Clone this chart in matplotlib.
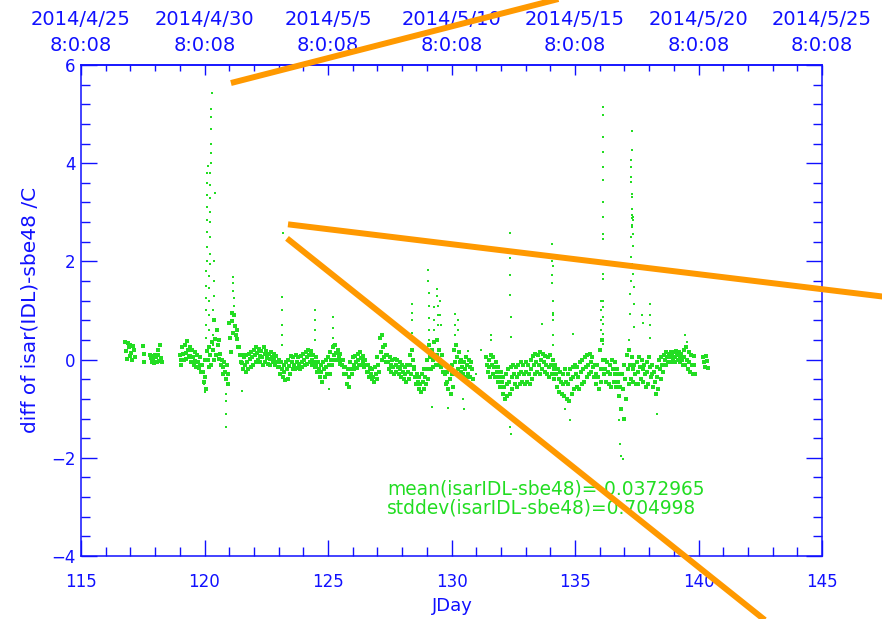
import numpy as np
import matplotlib
matplotlib.use('Agg')
import matplotlib.pyplot as plt
from matplotlib.ticker import MultipleLocator

n = np.nan

# band of the diff record, sampled every 0.1 day from JDay 116.0 (upper / middle / lower dots)
hi = [n, n, n, n, n, n, n, n, 0.35, 0.33,
      0.3, 0.28, n, n, n, 0.28, n, n, 0.1, 0.08,
      0.1, 0.2, 0.3, n, n, n, n, n, n, n,
      0.1, 0.25, 0.3, 0.38, 0.25, 0.2, 0.15, 0.1, 0.05, -0.1,
      0.0, 0.18, 0.25, 0.35, 0.8, 0.6, 0.4, 0.0, -0.05, -0.1,
      0.75, 0.95, 0.9, 0.6, 0.25, 0.1, 0.05, 0.1, 0.12, 0.15,
      0.2, 0.25, 0.22, 0.18, 0.25, 0.18, 0.12, 0.15, 0.12, 0.08,
      0.0, -0.05, -0.1, -0.05, 0.0, 0.08, 0.05, 0.1, 0.05, 0.08,
      0.12, 0.15, 0.2, 0.18, 0.1, 0.05, -0.05, -0.1, -0.05, 0.0,
      0.05, 0.15, 0.25, 0.3, 0.2, 0.12, 0.0, -0.15, -0.2, -0.05,
      0.05, 0.08, 0.12, 0.15, 0.08, 0.0, -0.1, -0.18, -0.2, -0.15,
      0.05, 0.45, 0.5, 0.3, 0.1, 0.05, 0.0, 0.02, 0.0, -0.05,
      -0.1, -0.15, -0.1, 0.1, 0.2, -0.15, -0.3, -0.35, -0.3, -0.2,
      0.0, 0.3, 0.2, 0.35, 0.4, 0.2, 0.1, -0.1, -0.25, -0.2,
      -0.1, 0.2, 0.3, 0.15, 0.0, -0.05, 0.05, 0.0, -0.05, n,
      n, n, n, n, 0.05, 0.0, 0.1, 0.05, -0.05, -0.15,
      -0.25, -0.35, -0.3, -0.2, -0.15, -0.1, -0.15, -0.1, -0.05, -0.1,
      -0.05, -0.1, 0.0, 0.08, 0.12, 0.1, 0.15, 0.12, 0.08, 0.05,
      0.1, 0.0, -0.1, -0.2, -0.25, -0.3, -0.2, -0.3, -0.2, -0.15,
      -0.1, -0.15, -0.05, 0.0, 0.05, 0.1, 0.12, 0.05, -0.1, -0.1,
      0.2, 0.4, 0.0, -0.05, -0.1, 0.0, -0.05, -0.2, -0.3, -0.3,
      -0.1, 0.1, 0.2, 0.05, -0.1, -0.05, 0.05, 0.0, -0.1, -0.05,
      0.05, -0.1, -0.25, -0.15, 0.0, 0.05, 0.1, 0.15, 0.12, 0.15,
      0.15, 0.18, 0.15, 0.12, 0.2, 0.25, 0.15, 0.1, 0.08, n,
      n, n, 0.05, 0.08, n, n, n, n, n, n]

mid = [n, n, n, n, n, n, n, n, 0.18, 0.26,
       0.14, 0.2, n, n, n, 0.12, n, n, 0.04, 0.0,
       0.06, 0.1, 0.04, n, n, n, n, n, n, n,
       0.0, 0.12, 0.14, 0.2, 0.08, 0.06, -0.03, -0.05, -0.12, -0.25,
       -0.35, 0.0, 0.1, 0.2, 0.42, 0.3, 0.12, -0.15, -0.25, -0.3,
       0.45, 0.78, 0.68, 0.42, 0.1, -0.06, -0.1, -0.04, 0.01, 0.05,
       0.1, 0.13, 0.07, 0.05, 0.11, 0.04, 0.02, 0.06, 0.0, -0.05,
       -0.15, -0.2, -0.26, -0.2, -0.14, -0.05, -0.1, -0.04, -0.08, -0.05,
       0.0, 0.06, 0.1, 0.0, -0.05, -0.1, -0.2, -0.26, -0.2, -0.15,
       -0.1, 0.0, 0.1, 0.13, 0.05, 0.0, -0.15, -0.3, -0.36, -0.2,
       -0.1, -0.05, 0.0, 0.03, -0.05, -0.12, -0.25, -0.3, -0.35, -0.3,
       -0.1, 0.15, 0.25, 0.1, -0.05, -0.1, -0.15, -0.12, -0.15, -0.2,
       -0.25, -0.3, -0.25, -0.1, 0.0, -0.35, -0.45, -0.5, -0.45, -0.35,
       -0.2, 0.05, 0.0, 0.05, 0.1, 0.0, -0.1, -0.3, -0.45, -0.4,
       -0.3, -0.05, 0.05, -0.05, -0.15, -0.2, -0.1, -0.15, -0.2, n,
       n, n, n, n, -0.1, -0.15, -0.1, -0.15, -0.25, -0.35,
       -0.45, -0.55, -0.5, -0.45, -0.35, -0.3, -0.35, -0.3, -0.25, -0.3,
       -0.25, -0.3, -0.2, -0.1, -0.05, -0.1, 0.0, -0.05, -0.1, -0.15,
       -0.1, -0.2, -0.3, -0.4, -0.45, -0.5, -0.45, -0.5, -0.4, -0.35,
       -0.3, -0.35, -0.25, -0.2, -0.15, -0.1, -0.05, -0.15, -0.3, -0.35,
       -0.2, 0.0, -0.2, -0.25, -0.3, -0.2, -0.3, -0.45, -0.55, -0.6,
       -0.4, -0.2, -0.1, -0.2, -0.3, -0.25, -0.15, -0.2, -0.3, -0.25,
       -0.15, -0.3, -0.45, -0.35, -0.2, -0.1, 0.0, 0.05, 0.05, 0.08,
       0.05, 0.1, 0.05, 0.0, 0.05, 0.0, -0.05, -0.1, -0.1, n,
       n, n, -0.05, -0.02, n, n, n, n, n, n]

lo = [n, n, n, n, n, n, n, n, 0.02, 0.08,
      0.0, 0.05, n, n, n, -0.04, n, n, -0.05, -0.06,
      -0.04, -0.02, -0.05, n, n, n, n, n, n, n,
      -0.1, 0.0, 0.02, 0.05, -0.05, -0.1, -0.15, -0.18, -0.25, -0.45,
      -0.6, -0.16, -0.1, 0.0, 0.1, 0.02, -0.1, -0.3, -0.4, -0.5,
      0.15, 0.55, 0.5, 0.25, -0.05, -0.2, -0.25, -0.2, -0.15, -0.1,
      -0.05, 0.0, -0.05, -0.1, -0.05, -0.08, -0.1, -0.05, -0.12, -0.15,
      -0.3, -0.35, -0.42, -0.4, -0.3, -0.2, -0.2, -0.18, -0.2, -0.15,
      -0.12, -0.08, -0.05, -0.1, -0.15, -0.25, -0.35, -0.45, -0.35, -0.3,
      -0.3, -0.1, 0.0, 0.0, -0.08, -0.12, -0.3, -0.5, -0.55, -0.3,
      -0.2, -0.18, -0.1, -0.1, -0.15, -0.25, -0.35, -0.4, -0.45, -0.4,
      -0.25, 0.0, 0.05, -0.05, -0.2, -0.25, -0.3, -0.25, -0.3, -0.35,
      -0.4, -0.45, -0.4, -0.3, -0.2, -0.5, -0.6, -0.66, -0.6, -0.5,
      -0.4, -0.2, -0.15, -0.1, -0.1, -0.15, -0.25, -0.5, -0.6, -0.7,
      -0.55, -0.3, -0.2, -0.25, -0.3, -0.35, -0.3, -0.35, -0.4, n,
      n, n, n, n, -0.25, -0.35, -0.3, -0.35, -0.45, -0.55,
      -0.7, -0.8, -0.75, -0.7, -0.6, -0.5, -0.55, -0.5, -0.45, -0.5,
      -0.45, -0.5, -0.4, -0.3, -0.25, -0.3, -0.2, -0.25, -0.3, -0.35,
      -0.3, -0.4, -0.55, -0.65, -0.7, -0.75, -0.8, -0.85, -0.7, -0.6,
      -0.55, -0.6, -0.5, -0.45, -0.35, -0.3, -0.25, -0.35, -0.5, -0.6,
      -0.45, -0.3, -0.45, -0.5, -0.55, -0.45, -0.55, -0.75, -1.0, -1.2,
      -0.8, -0.5, -0.4, -0.45, -0.5, -0.5, -0.4, -0.45, -0.55, -0.5,
      -0.35, -0.55, -0.7, -0.6, -0.4, -0.25, -0.12, -0.05, -0.05, 0.0,
      -0.05, 0.0, -0.05, -0.12, -0.1, -0.2, -0.25, -0.3, -0.3, n,
      n, n, -0.15, -0.18, n, n, n, n, n, n]

# spikes and isolated outliers (JDay, diff)
spike_day = [120.05, 120.06, 120.06, 120.07, 120.07, 120.08, 120.08, 120.09, 120.09, 120.10,
             120.10, 120.11, 120.11, 120.12, 120.12, 120.13,
             120.18, 120.19, 120.19, 120.20, 120.20, 120.21, 120.21, 120.22, 120.22, 120.23,
             120.23, 120.24, 120.24, 120.25, 120.25, 120.26, 120.27, 120.27, 120.28, 120.29,
             120.33, 120.34, 120.35, 120.36, 120.37, 120.38, 120.40, 120.41,
             119.98, 120.00, 120.87, 120.87, 120.88, 120.88,
             121.15, 121.16, 121.17, 121.18, 121.19, 121.50,
             123.13, 123.13, 123.14, 123.14, 123.15, 123.17,
             124.47, 124.47, 124.48, 124.48, 125.19, 125.19, 125.20, 125.20, 125.05, 127.15,
             128.40, 128.40, 128.41, 128.41, 128.42,
             129.06, 129.06, 129.07, 129.07, 129.08, 129.08, 129.09, 129.20,
             129.30, 129.30, 129.31, 129.43, 129.43, 129.44, 129.44, 129.45,
             129.55, 129.55, 129.56, 129.86, 130.15, 130.15, 130.16, 130.25, 130.26,
             130.45, 130.50, 130.67, 131.00, 131.20, 131.60, 131.61,
             132.30, 132.35, 132.40, 132.37, 132.37, 132.38, 132.38, 132.39, 132.39, 133.65,
             134.07, 134.07, 134.08, 134.08, 134.09, 134.09, 134.10, 134.10, 134.11, 134.12, 134.12,
             134.60, 134.80, 134.90,
             136.12, 136.12, 136.12, 136.12, 136.13, 136.13, 136.13, 136.13, 136.13, 136.13,
             136.14, 136.14, 136.14, 136.14, 136.15, 136.15, 136.15, 136.15,
             136.05, 136.05, 136.06, 136.06, 136.07,
             136.80, 136.82, 136.85, 136.95,
             137.30, 137.29, 137.28, 137.27, 137.28, 137.26, 137.30, 137.31, 137.29, 137.32,
             137.33, 137.31, 137.34, 137.30, 137.29, 137.33, 137.28, 137.35, 137.27, 137.31,
             137.36, 137.25, 137.38, 137.24, 137.37, 137.22, 137.39, 137.20,
             137.70, 137.75, 138.04, 138.04, 138.05, 138.05, 138.30, 139.45, 139.55]
spike_val = [0.2, 0.45, 0.7, 1.0, 1.25, 1.5, 1.8, 2.0, 2.3, 2.6,
             2.85, 3.1, 3.35, 3.6, 3.8, 3.95,
             0.6, 0.9, 1.2, 1.45, 1.7, 1.95, 2.15, 2.5, 2.8, 3.0,
             3.3, 3.55, 3.8, 4.0, 4.2, 4.4, 4.7, 4.95, 5.1, 5.42,
             0.3, 0.5, 0.8, 1.0, 1.3, 1.6, 2.0, 3.4,
             -0.5, -0.67, -0.7, -0.84, -1.11, -1.38,
             1.68, 1.55, 1.4, 1.25, 1.1, -0.63,
             1.27, 1.0, 0.7, 0.5, 0.3, 2.57,
             1.0, 0.8, 0.6, 0.4, 0.87, 0.65, 0.45, 0.3, -0.6, 0.53,
             1.14, 0.95, 0.8, 0.55, 0.4,
             1.82, 1.6, 1.35, 1.1, 0.85, 0.6, 0.4, -0.97,
             1.07, 0.8, 0.6, 1.44, 1.3, 1.1, 0.9, 0.7,
             1.2, 0.9, 0.7, -0.98, 0.93, 0.7, 0.5, 0.8, 0.6,
             -0.8, -1.0, 0.18, -0.3, 0.2, 0.5, 0.4,
             -1.1, -1.38, -1.52, 2.57, 2.06, 1.72, 1.31, 0.86, 0.46, 0.73,
             2.36, 2.0, 1.72, 1.55, 1.2, 0.95, 0.8, 0.5, 0.3, 1.9, 0.9,
             -1.0, -1.24, 0.52,
             5.15, 4.98, 4.54, 4.23, 3.92, 3.65, 3.21, 2.9, 2.56, 2.46,
             1.75, 1.65, 1.2, 1.07, 0.86, 0.73, 0.52, 0.32,
             1.2, 1.0, 0.8, 0.6, 0.4,
             -1.24, -1.72, -1.96, -2.03,
             4.65, 4.27, 4.06, 3.93, 3.72, 3.62, 3.38, 3.31, 3.07, 2.95,
             2.9, 2.88, 2.84, 2.75, 2.7, 2.56, 2.5, 2.32, 2.09, 1.95,
             1.75, 1.6, 1.48, 1.34, 1.14, 0.93, 0.66, 0.39,
             0.9, 0.75, 1.14, 0.9, 0.7, 0.45, -1.1, 0.5, 0.35]

x_ticks = [115, 120, 125, 130, 135, 140, 145]
top_labels = ['2014/4/25\n8:0:08', '2014/4/30\n8:0:08', '2014/5/5\n8:0:08', '2014/5/10\n8:0:08',
              '2014/5/15\n8:0:08', '2014/5/20\n8:0:08', '2014/5/25\n8:0:08']
y_ticks = [-4, -2, 0, 2, 4, 6]

stats = ['mean(isarIDL-sbe48)=-0.0372965', 'stddev(isarIDL-sbe48)=0.704998']

# orange annotation strokes drawn over the plot (JDay, diff endpoints)
mark_x = [[121.07, 135.0], [123.38, 148.0], [123.34, 143.0]]
mark_y = [[5.633, 7.431], [2.755, 1.251], [2.469, -5.43]]

blue = '#1010FF'
green = '#22DD22'
orange = '#FF9900'

fig = plt.figure(figsize=(8.82, 6.19), dpi=100)
ax = fig.add_axes([81 / 882, 1 - 556 / 619, 741 / 882, 491 / 619])

grid = 116 + np.arange(len(hi)) * 0.1
ax.plot(grid, hi, 's', ms=2.2, mew=0, color=green)
ax.plot(grid + 0.033, mid, 's', ms=2.2, mew=0, color=green)
ax.plot(grid + 0.067, lo, 's', ms=2.2, mew=0, color=green)
ax.plot(spike_day, spike_val, 's', ms=2.0, mew=0, color=green)

ax.set_xlim(115, 145)
ax.set_ylim(-4, 6)
ax.set_xticks(x_ticks)
ax.set_yticks(y_ticks)
ax.xaxis.set_minor_locator(MultipleLocator(1))
ax.yaxis.set_minor_locator(MultipleLocator(0.4))
ax.tick_params(which='both', direction='in', color=blue, labelcolor=blue,
               top=False, right=True, labelsize=12, width=1)
ax.tick_params(which='major', length=11.5)
ax.tick_params(which='minor', length=6.5)
ax.tick_params(axis='x', pad=12)
ax.tick_params(axis='y', pad=4)
for s in ax.spines.values():
    s.set_color(blue)
    s.set_linewidth(1.1)

sec = ax.secondary_xaxis('top')
sec.set_xticks(x_ticks, labels=top_labels)
sec.xaxis.set_minor_locator(MultipleLocator(1))
sec.tick_params(which='both', direction='in', color=blue, labelcolor=blue, labelsize=14, width=1, pad=7)
sec.tick_params(which='major', length=7)
sec.tick_params(which='minor', length=4.3)
sec.spines['top'].set_color(blue)
sec.spines['top'].set_linewidth(1.1)
for lbl in sec.get_xticklabels():
    lbl.set_linespacing(1.5)

for i, s in enumerate(stats):
    ax.text(127.39, -2.633 - 0.39 * i, s, color=green, fontsize=13.4, va='center')

fig.text(30 / 882, 1 - 310 / 619, 'diff of isar(IDL)-sbe48 /C', rotation=90,
         ha='center', va='center', color=blue, fontsize=14.5)
fig.text(452 / 882, 1 - 606 / 619, 'JDay', ha='center', va='center', color=blue, fontsize=13)

for xs, ys in zip(mark_x, mark_y):
    ax.plot(xs, ys, color=orange, lw=4.3, clip_on=False, solid_capstyle='butt', zorder=5)

fig.savefig('out.png', dpi=100)
